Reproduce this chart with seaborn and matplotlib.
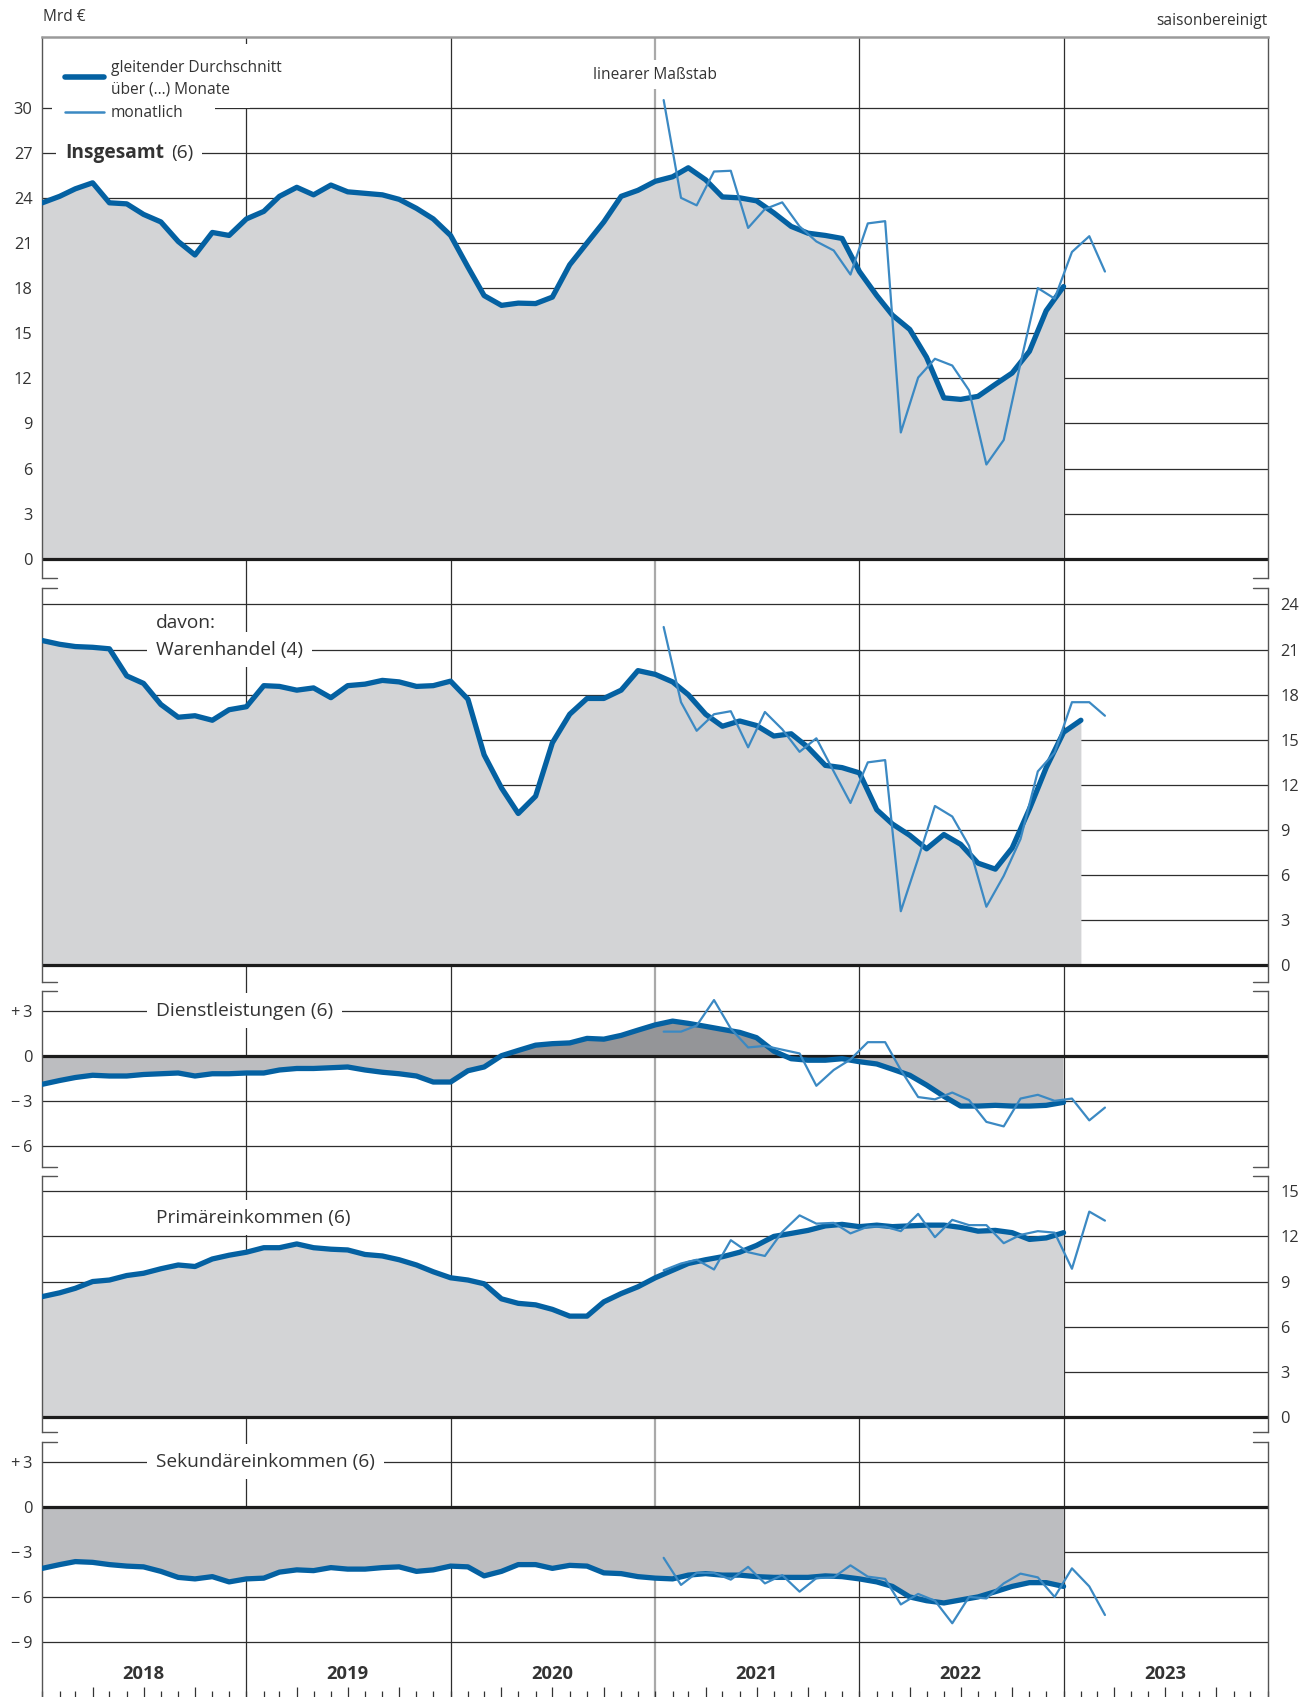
import numpy as np
import pandas as pd
import matplotlib.pyplot as plt
from matplotlib.lines import Line2D
from matplotlib.patches import Rectangle
import matplotlib.dates as mdates
import seaborn as sns

# Leistungsbilanz, Mrd Euro, saisonbereinigt
# gleitende Durchschnitte: Werte an den Monatsgrenzen ab Januar 2018
# monatliche Werte: Januar 2021 bis Maerz 2023
ma_start = "2018-01-01"
mon_start = "2021-01-01"
years = [2018, 2019, 2020, 2021, 2022, 2023]

insgesamt_ma = [23.67, 24.1, 24.6, 25.0, 23.67, 23.6, 22.9, 22.4, 21.1, 20.2,
                21.7, 21.5, 22.6, 23.1, 24.1, 24.7, 24.2, 24.85, 24.4, 24.3,
                24.2, 23.9, 23.3, 22.6, 21.5, 19.4, 17.5, 16.85, 17.0, 16.97,
                17.4, 19.55, 21.0, 22.4, 24.1, 24.5, 25.1, 25.4, 26.0, 25.2,
                24.06, 24.0, 23.8, 23.0, 22.1, 21.65, 21.5, 21.3, 19.1, 17.5,
                16.2, 15.25, 13.4, 10.7, 10.6, 10.8, 11.6, 12.35, 13.8, 16.5,
                18.1]
insgesamt_mon = [30.5, 24.0, 23.5, 25.75, 25.8, 22.0, 23.25, 23.7, 22.1, 21.1,
                 20.5, 18.9, 22.3, 22.45, 8.4, 12.05, 13.3, 12.85, 11.2, 6.27,
                 7.9, 13.0, 18.0, 17.3, 20.4, 21.45, 19.1]

waren_ma = [21.6, 21.35, 21.2, 21.15, 21.05, 19.25, 18.75, 17.35, 16.5, 16.6,
            16.3, 17.0, 17.2, 18.6, 18.55, 18.3, 18.45, 17.8, 18.6, 18.7,
            18.95, 18.85, 18.55, 18.6, 18.9, 17.7, 14.0, 11.8, 10.1, 11.25,
            14.8, 16.7, 17.75, 17.75, 18.3, 19.6, 19.35, 18.85, 18.0, 16.7,
            15.9, 16.25, 15.95, 15.25, 15.4, 14.5, 13.3, 13.15, 12.8, 10.35,
            9.4, 8.65, 7.75, 8.7, 8.05, 6.8, 6.4, 7.8, 10.4, 13.15,
            15.5, 16.3]
waren_mon = [22.5, 17.5, 15.6, 16.7, 16.9, 14.5, 16.85, 15.7, 14.2, 15.1,
             12.9, 10.8, 13.5, 13.65, 3.6, 7.1, 10.6, 9.9, 7.95, 3.9,
             5.95, 8.4, 12.9, 14.15, 17.5, 17.5, 16.6]

dienst_ma = [-1.9, -1.65, -1.45, -1.3, -1.35, -1.35, -1.25, -1.2, -1.15, -1.35,
             -1.2, -1.2, -1.15, -1.15, -0.95, -0.85, -0.85, -0.8, -0.75, -0.95,
             -1.1, -1.2, -1.35, -1.75, -1.75, -1.0, -0.75, 0.0, 0.35, 0.7,
             0.8, 0.85, 1.15, 1.1, 1.35, 1.7, 2.05, 2.3, 2.15, 1.95,
             1.75, 1.55, 1.2, 0.3, -0.2, -0.3, -0.3, -0.2, -0.4, -0.55,
             -0.9, -1.3, -1.95, -2.7, -3.35, -3.35, -3.3, -3.35, -3.35, -3.3,
             -3.1]
dienst_mon = [1.6, 1.6, 2.0, 3.7, 1.8, 0.55, 0.65, 0.4, 0.15, -2.0,
              -0.95, -0.25, 0.9, 0.9, -0.95, -2.75, -2.9, -2.45, -2.95, -4.4,
              -4.7, -2.85, -2.6, -3.0, -2.85, -4.3, -3.45]

primaer_ma = [8.0, 8.25, 8.55, 9.0, 9.1, 9.4, 9.55, 9.85, 10.1, 10.0,
              10.5, 10.75, 10.95, 11.25, 11.25, 11.5, 11.25, 11.15, 11.1, 10.8,
              10.7, 10.45, 10.1, 9.65, 9.25, 9.1, 8.85, 7.85, 7.55, 7.45,
              7.15, 6.7, 6.7, 7.65, 8.2, 8.65, 9.25, 9.75, 10.2, 10.45,
              10.65, 10.95, 11.4, 12.0, 12.2, 12.4, 12.7, 12.8, 12.65, 12.75,
              12.65, 12.7, 12.75, 12.75, 12.6, 12.35, 12.4, 12.25, 11.8, 11.9,
              12.25]
primaer_mon = [9.75, 10.2, 10.45, 9.8, 11.75, 10.95, 10.7, 12.3, 13.4, 12.85,
               12.9, 12.2, 12.65, 12.65, 12.35, 13.5, 11.95, 13.1, 12.75, 12.75,
               11.55, 12.1, 12.35, 12.25, 9.85, 13.65, 13.05]

sekund_ma = [-4.1, -3.85, -3.65, -3.7, -3.85, -3.95, -4.0, -4.3, -4.7, -4.8,
             -4.65, -5.0, -4.8, -4.75, -4.35, -4.2, -4.25, -4.05, -4.15, -4.15,
             -4.05, -4.0, -4.3, -4.2, -3.95, -4.0, -4.6, -4.3, -3.85, -3.85,
             -4.1, -3.9, -3.95, -4.4, -4.45, -4.65, -4.75, -4.8, -4.55, -4.45,
             -4.55, -4.55, -4.65, -4.7, -4.7, -4.7, -4.6, -4.65, -4.8, -5.0,
             -5.3, -6.0, -6.25, -6.4, -6.2, -6.0, -5.65, -5.3, -5.05, -5.05,
             -5.3]
sekund_mon = [-3.4, -5.2, -4.4, -4.4, -4.85, -4.0, -5.1, -4.55, -5.65, -4.75,
              -4.7, -3.9, -4.65, -4.8, -6.5, -5.8, -6.25, -7.75, -6.0, -6.1,
              -5.1, -4.45, -4.7, -6.0, -4.1, -5.3, -7.2]

# Farben
THICK = "#0461a2"
THIN = "#3b89c3"
FILL_LIGHT = "#d3d4d6"
FILL_MID = "#bcbdc0"
FILL_DARK = "#949598"
GRID = "#2e2e2e"
TXT = "#333333"

sns.set_theme(style="white")
plt.rcParams["font.family"] = ["Open Sans", "DejaVu Sans"]
plt.rcParams["text.color"] = TXT
plt.rcParams["xtick.color"] = TXT
plt.rcParams["ytick.color"] = TXT

W, H = 1311, 1697
L_PX, R_PX = 42.3, 1267.7
PPU = 15.04  # Pixel je Mrd Euro
LABEL_FS = 13.8
SMALL_FS = 11.2


def fx(px):
    return px / W


def fy(py):
    return 1 - py / H


fig = plt.figure(figsize=(W / 100, H / 100), dpi=100)

x0 = pd.Timestamp("2018-01-01")
x1 = pd.Timestamp("2024-01-01")

# Hintergrund mit den Jahreslinien
bg = fig.add_axes([fx(L_PX), fy(H), fx(R_PX - L_PX), (H - 37) / H], zorder=-1)
bg.set_xlim(x0, x1)
bg.set_ylim(0, 1)
bg.axis("off")
for y in years[1:]:
    c, lw = ("#a9a9a9", 1.6) if y == 2021 else (GRID, 0.9)
    bg.axvline(pd.Timestamp(f"{y}-01-01"), color=c, lw=lw)

# Paneele: (top px, bottom px, zero px)
panels = [
    dict(ma=insgesamt_ma, mon=insgesamt_mon, top=37, bottom=578, zero=558.8,
         ticks=[0, 3, 6, 9, 12, 15, 18, 21, 24, 27, 30], side="left"),
    dict(ma=waren_ma, mon=waren_mon, top=588, bottom=981.7, zero=965.4,
         ticks=[0, 3, 6, 9, 12, 15, 18, 21, 24], side="right"),
    dict(ma=dienst_ma, mon=dienst_mon, top=990.7, bottom=1166.7, zero=1055.7,
         ticks=[3, 0, -3, -6], side="left"),
    dict(ma=primaer_ma, mon=primaer_mon, top=1175.7, bottom=1432, zero=1416.9,
         ticks=[0, 3, 6, 9, 12, 15], side="right"),
    dict(ma=sekund_ma, mon=sekund_mon, top=1441.7, bottom=H, zero=1506.7,
         ticks=[3, 0, -3, -6, -9], side="left"),
]


def fmt(v, signed):
    if v == 0:
        return "0"
    if signed:
        return ("+\u2009" if v > 0 else "\u2212\u2009") + str(abs(v))
    return str(v)


axes = []
for k, p in enumerate(panels):
    ax = fig.add_axes([fx(L_PX), fy(p["bottom"]), fx(R_PX - L_PX),
                       (p["bottom"] - p["top"]) / H])
    ax.set_facecolor("none")
    ax.set_xlim(x0, x1)
    ax.set_ylim((p["zero"] - p["bottom"]) / PPU, (p["zero"] - p["top"]) / PPU)

    ma = pd.Series(p["ma"], index=pd.date_range(ma_start, periods=len(p["ma"]), freq="MS"))
    mon = pd.Series(p["mon"], index=pd.date_range(mon_start, periods=len(p["mon"]), freq="MS")
                    + pd.Timedelta(days=15))

    # Gitter
    for t in p["ticks"]:
        if t != 0:
            ax.axhline(t, color=GRID, lw=0.9, zorder=0.5)
    ax.axhline(0, color="#1c1c1c", lw=2.3, zorder=2.5)

    # Flaechen
    if k == 2:
        ax.fill_between(ma.index, 0, ma.values, where=ma.values >= 0, interpolate=True,
                        color=FILL_DARK, lw=0, zorder=1)
        ax.fill_between(ma.index, 0, ma.values, where=ma.values <= 0, interpolate=True,
                        color=FILL_MID, lw=0, zorder=1)
    elif k == 4:
        ax.fill_between(ma.index, 0, ma.values, color=FILL_MID, lw=0, zorder=1)
    else:
        ax.fill_between(ma.index, 0, ma.values, color=FILL_LIGHT, lw=0, zorder=1)

    sns.lineplot(x=ma.index, y=ma.values, ax=ax, color=THICK, lw=3.8,
                 estimator=None, zorder=3)
    sns.lineplot(x=mon.index, y=mon.values, ax=ax, color=THIN, lw=1.6,
                 estimator=None, zorder=4)

    # Achsen
    for s in ["top", "bottom"]:
        ax.spines[s].set_visible(False)
    for s in ["left", "right"]:
        ax.spines[s].set_color("#555555")
        ax.spines[s].set_linewidth(1.0)
    signed = k in (2, 4)
    ax.set_yticks(p["ticks"])
    ax.set_yticklabels([fmt(t, signed) for t in p["ticks"]], fontsize=11.8)
    if p["side"] == "right":
        ax.yaxis.tick_right()
        ax.tick_params(axis="y", length=0, pad=9)
    else:
        ax.tick_params(axis="y", length=0, pad=7)
    ax.set_xlabel("")
    ax.set_ylabel("")

    # Klammern an den Paneelgrenzen
    f = 15 / (R_PX - L_PX)
    ends = []
    if k > 0:
        ends.append(1)
    if k < 4:
        ends.append(0)
    for yy in ends:
        ax.plot([0, f], [yy, yy], transform=ax.transAxes, color="#555555", lw=1.0, clip_on=False)
        ax.plot([1 - f, 1], [yy, yy], transform=ax.transAxes, color="#555555", lw=1.0, clip_on=False)
    if k == 0:
        ax.spines["top"].set_visible(True)
        ax.spines["top"].set_color("#9a9a9a")
        ax.spines["top"].set_linewidth(1.8)

    if k < 4:
        ax.set_xticks([])
    axes.append(ax)

ax1, ax2, ax3, ax4, ax5 = axes
box = dict(facecolor="white", edgecolor="none", boxstyle="square,pad=0.45")
lab_x = (156 - L_PX) / (R_PX - L_PX)

t = ax1.text((65 - L_PX) / (R_PX - L_PX), 27, "Insgesamt", fontsize=LABEL_FS, fontweight="bold",
             va="center", ha="left", transform=ax1.get_yaxis_transform(), bbox=box, zorder=7)
ax1.annotate("(6)", xy=(1, 0.5), xycoords=t, xytext=(5, 0), textcoords="offset points",
             va="center", ha="left", fontsize=LABEL_FS, bbox=box, zorder=6)
ax1.text(pd.Timestamp("2021-01-01"), 32.2, "linearer Maßstab", fontsize=SMALL_FS,
         ha="center", va="center", bbox=dict(facecolor="white", edgecolor="none",
                                             boxstyle="square,pad=0.4"), zorder=6)

ax2.text(lab_x, 22.75, "davon:", fontsize=LABEL_FS, va="center", ha="left",
         transform=ax2.get_yaxis_transform(), zorder=6)
ax2.text(lab_x, 21, "Warenhandel (4)", fontsize=LABEL_FS, va="center", ha="left",
         transform=ax2.get_yaxis_transform(), bbox=box, zorder=6)
ax3.text(lab_x, 3, "Dienstleistungen (6)", fontsize=LABEL_FS, va="center", ha="left",
         transform=ax3.get_yaxis_transform(), bbox=box, zorder=6)
ax4.text(lab_x, 13.25, "Primäreinkommen (6)", fontsize=LABEL_FS, va="center", ha="left",
         transform=ax4.get_yaxis_transform(), bbox=box, zorder=6)
ax5.text(lab_x, 3, "Sekundäreinkommen (6)", fontsize=LABEL_FS, va="center", ha="left",
         transform=ax5.get_yaxis_transform(), bbox=box, zorder=6)

# x-Achse unten: Monats- und Quartalsstriche, Jahreszahlen
ax5.xaxis.set_major_locator(mdates.MonthLocator(bymonth=[4, 7, 10]))
ax5.xaxis.set_minor_locator(mdates.MonthLocator())
ax5.tick_params(axis="x", which="major", direction="in", length=7.4, width=0.9,
                color="#333333", bottom=True, labelbottom=False)
ax5.tick_params(axis="x", which="minor", direction="in", length=4.3, width=0.9,
                color="#333333", bottom=True)
yfrac = (H - 1674) / (H - 1441.7)
for y in years:
    ax5.text(pd.Timestamp(f"{y}-07-01"), yfrac, str(y), transform=ax5.get_xaxis_transform(),
             ha="center", va="center", fontsize=13.2, fontweight="bold")

# Legende (weisse Flaeche ueber dem Gitter)
fig.add_artist(Rectangle((fx(52), fy(108)), (250 - 52) / W, (108 - 44) / H,
                         transform=fig.transFigure, facecolor="white", edgecolor="none", zorder=3))
fig.add_artist(Rectangle((fx(52), fy(123)), (215 - 52) / W, (123 - 100) / H,
                         transform=fig.transFigure, facecolor="white", edgecolor="none", zorder=3))
fig.add_artist(Line2D([fx(65), fx(104)], [fy(77), fy(77)], color=THICK, lw=4.0, zorder=4))
fig.add_artist(Line2D([fx(65), fx(104)], [fy(112), fy(112)], color=THIN, lw=1.8, zorder=4))
fig.text(fx(111), fy(67.5), "gleitender Durchschnitt", fontsize=SMALL_FS, va="center", zorder=5)
fig.text(fx(111), fy(89.5), "über (...) Monate", fontsize=SMALL_FS, va="center", zorder=5)
fig.text(fx(111), fy(113), "monatlich", fontsize=SMALL_FS, va="center", zorder=5)

fig.text(fx(43), fy(17), "Mrd €", fontsize=SMALL_FS, va="center", ha="left")
fig.text(fx(R_PX), fy(21), "saisonbereinigt", fontsize=SMALL_FS, va="center", ha="right")

fig.savefig("out.png", dpi=100)
